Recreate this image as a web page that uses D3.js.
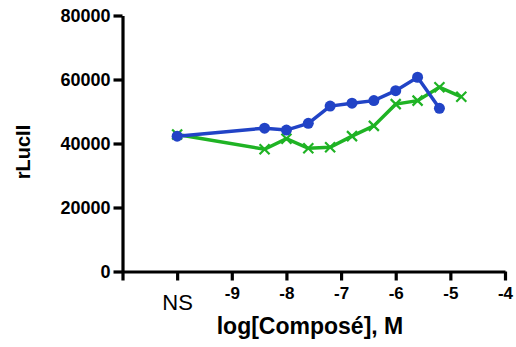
<!DOCTYPE html>
<html>
<head>
<meta charset="utf-8">
<script src="https://cdn.jsdelivr.net/npm/d3@7"></script>
<style>
  body { margin: 0; background: #fff; }
  svg { font-family: "Liberation Sans", Arial, sans-serif; }
  .axis path, .axis line { stroke: #000; stroke-width: 3.2; }
</style>
</head>
<body>
<div class="data_figure"></div>
<script>
// concentrations, log M (NS = no stimulation, drawn at -10)
const xBlue = [-10, -8.4, -8.0, -7.6, -7.2, -6.8, -6.4, -6.0, -5.6, -5.2];
const yBlue = [42300, 44800, 44200, 46300, 51700, 52600, 53400, 56500, 60700, 51000];
const xGreen = [-10, -8.4, -8.0, -7.6, -7.2, -6.8, -6.4, -6.0, -5.6, -5.2, -4.8];
const yGreen = [42800, 38200, 41500, 38500, 38800, 42300, 45500, 52300, 53400, 57600, 54600];

const yTicks = [0, 20000, 40000, 60000, 80000];
const xTicks = [-11, -10, -9, -8, -7, -6, -5, -4];
const xTickLabels = ["", "NS", "-9", "-8", "-7", "-6", "-5", "-4"];

const width = 516, height = 347;
const blue = "#2143c6", green = "#1fb324";

const xScale = d3.scaleLinear().domain([-11, -4]).range([122.5, 505]);
const yScale = d3.scaleLinear().domain([0, 80000]).range([271.5, 15.5]);

let svg = d3.select(".data_figure")
    .append("svg")
    .attr("width", width)
    .attr("height", height);

// y axis
let gy = svg.append("g")
    .attr("class", "axis")
    .attr("transform", "translate(" + xScale(-11) + ",0)")
    .call(d3.axisLeft(yScale).tickValues(yTicks).tickSize(9).tickSizeOuter(0).tickPadding(3).tickFormat(d3.format("d")));
gy.selectAll("text")
    .attr("font-size", 18)
    .attr("font-weight", "bold")
    .attr("fill", "#000");

// x axis
let gx = svg.append("g")
    .attr("class", "axis")
    .attr("transform", "translate(0," + yScale(0) + ")")
    .call(d3.axisBottom(xScale).tickValues(xTicks).tickSize(9).tickSizeOuter(0).tickPadding(6)
        .tickFormat((d, i) => xTickLabels[i]));
gx.selectAll("text")
    .attr("fill", "#000")
    .attr("font-size", 17)
    .attr("font-weight", "bold");
gx.selectAll(".tick text")
    .filter((d) => d === -10)
    .attr("font-size", 22)
    .attr("font-weight", "normal")
    .attr("dy", "1.05em");

// axis titles
svg.append("text")
    .text("rLucII")
    .attr("transform", "translate(30,152) rotate(-90)")
    .attr("text-anchor", "middle")
    .attr("font-size", 20)
    .attr("font-weight", "bold");

svg.append("text")
    .text("log[Composé], M")
    .attr("x", 310)
    .attr("y", 334)
    .attr("text-anchor", "middle")
    .attr("font-size", 23)
    .attr("font-weight", "bold");

const line = d3.line().x((d) => xScale(d[0])).y((d) => yScale(d[1]));

const greenData = xGreen.map((x, i) => [x, yGreen[i]]);
const blueData = xBlue.map((x, i) => [x, yBlue[i]]);

// green series (crosses)
svg.append("path")
    .datum(greenData)
    .attr("d", line)
    .attr("fill", "none")
    .attr("stroke", green)
    .attr("stroke-width", 3.5);

svg.selectAll(".cross")
    .data(greenData)
    .enter()
    .append("path")
    .attr("class", "cross")
    .attr("transform", (d) => "translate(" + xScale(d[0]) + "," + yScale(d[1]) + ")")
    .attr("d", "M-5,-5L5,5M-5,5L5,-5")
    .attr("stroke", green)
    .attr("stroke-width", 2.2);

// blue series (circles)
svg.append("path")
    .datum(blueData)
    .attr("d", line)
    .attr("fill", "none")
    .attr("stroke", blue)
    .attr("stroke-width", 3.5);

svg.selectAll(".dot")
    .data(blueData)
    .enter()
    .append("circle")
    .attr("class", "dot")
    .attr("cx", (d) => xScale(d[0]))
    .attr("cy", (d) => yScale(d[1]))
    .attr("r", 5.5)
    .attr("fill", blue);
</script>
</body>
</html>
